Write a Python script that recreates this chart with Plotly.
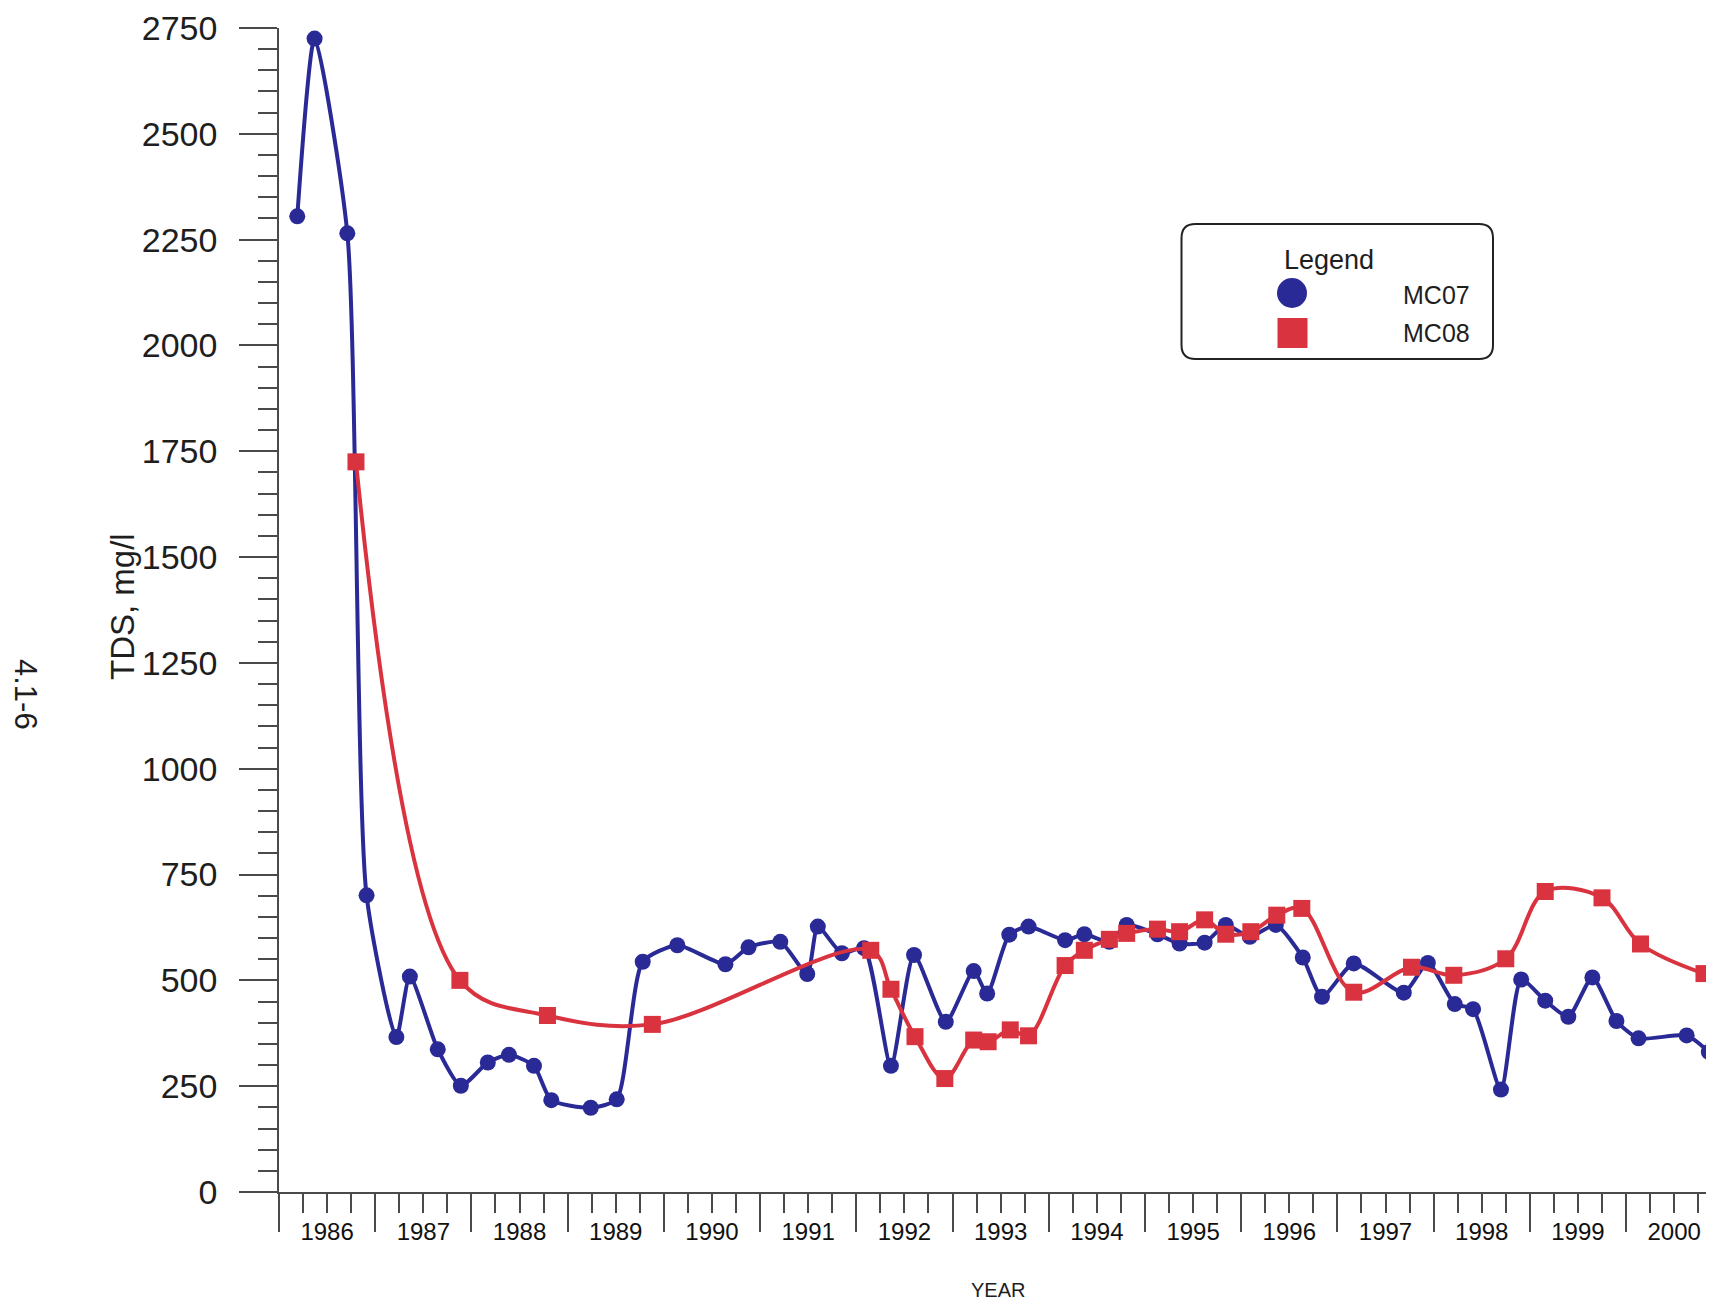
import plotly.graph_objects as go

# ---------------- data ----------------
mc07_year = [1986.19, 1986.37, 1986.71, 1986.91, 1987.22, 1987.36, 1987.65, 1987.89,
             1988.17, 1988.39, 1988.65, 1988.83, 1989.24, 1989.51, 1989.78, 1990.14,
             1990.64, 1990.88, 1991.21, 1991.49, 1991.60, 1991.85, 1992.08, 1992.36,
             1992.60, 1992.93, 1993.22, 1993.36, 1993.59, 1993.79, 1994.17, 1994.37,
             1994.63, 1994.81, 1995.13, 1995.36, 1995.62, 1995.84, 1996.09, 1996.36,
             1996.64, 1996.84, 1997.17, 1997.69, 1997.94, 1998.22, 1998.41, 1998.70,
             1998.91, 1999.16, 1999.40, 1999.65, 1999.90, 2000.13, 2000.63, 2000.86]
mc07_tds = [2305, 2725, 2265, 701, 366, 509, 337, 251,
            306, 324, 298, 217, 199, 219, 544, 583,
            538, 578, 591, 515, 627, 564, 576, 298,
            560, 402, 522, 469, 608, 627, 595, 609,
            591, 631, 609, 587, 589, 631, 603, 631,
            554, 461, 540, 471, 541, 444, 432, 242,
            502, 452, 414, 507, 404, 363, 370, 331]

mc08_year = [1986.80, 1987.88, 1988.79, 1989.88, 1992.15, 1992.36, 1992.61, 1992.92,
             1993.22, 1993.37, 1993.60, 1993.79, 1994.17, 1994.37, 1994.63, 1994.81,
             1995.13, 1995.36, 1995.62, 1995.84, 1996.10, 1996.37, 1996.63, 1997.17,
             1997.77, 1998.21, 1998.75, 1999.16, 1999.75, 2000.15, 2000.81]
mc08_tds = [1725, 500, 417, 396, 571, 479, 367, 268,
            359, 355, 383, 369, 535, 571, 597, 611,
            621, 615, 643, 609, 615, 654, 670, 472,
            531, 512, 551, 710, 695, 586, 516]

series_names = ["MC07", "MC08"]
year_labels = [str(y) for y in range(1986, 2001)]
year_label_pos = [y + 0.5 for y in range(1986, 2001)]
year_bounds = list(range(1986, 2002))
y_ticks = list(range(0, 2751, 250))

BLUE = "#2A2A96"
RED = "#DA3340"
AXIS = "#4a4a4a"
TXT = "#1e1e1e"
FONT = "Liberation Sans, Arial, sans-serif"

# page is 1714x1304; the html body adds an 8px margin, so the figure
# is drawn at page offset (8, 8). All page-pixel positions are mapped.
OFF = 8
PAGE_W, PAGE_H = 1714, 1304
W, H = PAGE_W - OFF, PAGE_H - OFF
PLOT_L, PLOT_T, PLOT_B = 279, 28, 1192          # page pixels
L, T = PLOT_L - OFF, PLOT_T - OFF
B = H - (PLOT_B - OFF)
R = 0
PW, PH = W - L - R, H - T - B


def px(x):          # page pixel -> paper x
    return (x - OFF - L) / PW


def py(y):          # page pixel -> paper y
    return (H - B - (y - OFF)) / PH


fig = go.Figure()
fig.add_trace(go.Scatter(
    x=mc07_year, y=mc07_tds, name=series_names[0], mode="lines+markers",
    line=dict(color=BLUE, width=4, shape="spline", smoothing=0.6),
    marker=dict(symbol="circle", size=16, color=BLUE),
    showlegend=False))
fig.add_trace(go.Scatter(
    x=mc08_year, y=mc08_tds, name=series_names[1], mode="lines+markers",
    line=dict(color=RED, width=4, shape="spline", smoothing=1.0),
    marker=dict(symbol="square", size=17, color=RED),
    showlegend=False))

x_range = [1986, 2000.914]

fig.update_layout(
    width=W, height=H,
    margin=dict(l=L, r=R, t=T, b=B, pad=0),
    paper_bgcolor="white", plot_bgcolor="white",
    showlegend=False,
    font=dict(family=FONT, color=TXT),
    xaxis=dict(
        range=x_range, showgrid=False, zeroline=False,
        showline=True, linecolor=AXIS, linewidth=1.5,
        tickmode="array", tickvals=year_bounds, showticklabels=False,
        ticks="outside", ticklen=38, tickwidth=1.5, tickcolor=AXIS,
        minor=dict(ticks="outside", dtick=0.25, tick0=1986, ticklen=19,
                   tickwidth=1.5, tickcolor=AXIS, showgrid=False),
    ),
    xaxis2=dict(
        range=x_range, overlaying="x", anchor="y", side="bottom",
        showgrid=False, zeroline=False, showline=False,
        tickmode="array", tickvals=year_label_pos, ticktext=year_labels,
        ticks="outside", ticklen=18, tickcolor="rgba(0,0,0,0)",
        tickfont=dict(size=24, family=FONT, color="#111111"),
    ),
    yaxis=dict(
        range=[0, 2750], showgrid=False, zeroline=False,
        showline=True, linecolor=AXIS, linewidth=1.5,
        tickmode="array", tickvals=y_ticks,
        ticks="outside", ticklen=38, tickwidth=1.5, tickcolor=AXIS,
        ticklabelstandoff=15,
        tickfont=dict(size=34, family=FONT, color=TXT),
        minor=dict(ticks="outside", dtick=50, tick0=0, ticklen=19,
                   tickwidth=1.5, tickcolor=AXIS, showgrid=False),
    ),
)

# empty trace so the label axis is drawn
fig.add_trace(go.Scatter(x=[None], y=[None], xaxis="x2", yaxis="y",
                         showlegend=False, hoverinfo="skip"))


def label(text, x, y, size, angle=0, xanchor="center"):
    fig.add_annotation(text=text, textangle=angle, xref="paper", yref="paper",
                       x=px(x), y=py(y), xanchor=xanchor, yanchor="middle",
                       showarrow=False,
                       font=dict(size=size, family=FONT, color=TXT))


label("TDS, mg/l", 122, 607, 33, angle=-90)
label("4.1-6", 26, 694, 31, angle=90)
label("YEAR", 998, 1290, 20)

# legend box (rounded)
x0, y0, x1, y1, r = 1181.5, 224, 1493, 359, 14
rx, ry = r / PW, r / PH
X0, X1, Y0, Y1 = px(x0), px(x1), py(y0), py(y1)
path = (f"M {X0+rx},{Y0} L {X1-rx},{Y0} Q {X1},{Y0} {X1},{Y0-ry} "
        f"L {X1},{Y1+ry} Q {X1},{Y1} {X1-rx},{Y1} L {X0+rx},{Y1} "
        f"Q {X0},{Y1} {X0},{Y1+ry} L {X0},{Y0-ry} Q {X0},{Y0} {X0+rx},{Y0} Z")
fig.add_shape(type="path", path=path, xref="paper", yref="paper",
              line=dict(color="#222222", width=2), fillcolor="rgba(0,0,0,0)")
label("Legend", 1329, 260, 27)
cx, cy, d = 1292, 293, 30
fig.add_shape(type="circle", xref="paper", yref="paper",
              x0=px(cx - d / 2), x1=px(cx + d / 2), y0=py(cy - d / 2), y1=py(cy + d / 2),
              fillcolor=BLUE, line=dict(width=0))
sx, sy, s = 1292.5, 333, 30
fig.add_shape(type="rect", xref="paper", yref="paper",
              x0=px(sx - s / 2), x1=px(sx + s / 2), y0=py(sy - s / 2), y1=py(sy + s / 2),
              fillcolor=RED, line=dict(width=0))
for name, yy in zip(series_names, [295, 333]):
    label(name, 1472, yy, 25, xanchor="right")

fig.write_html("out.html")
